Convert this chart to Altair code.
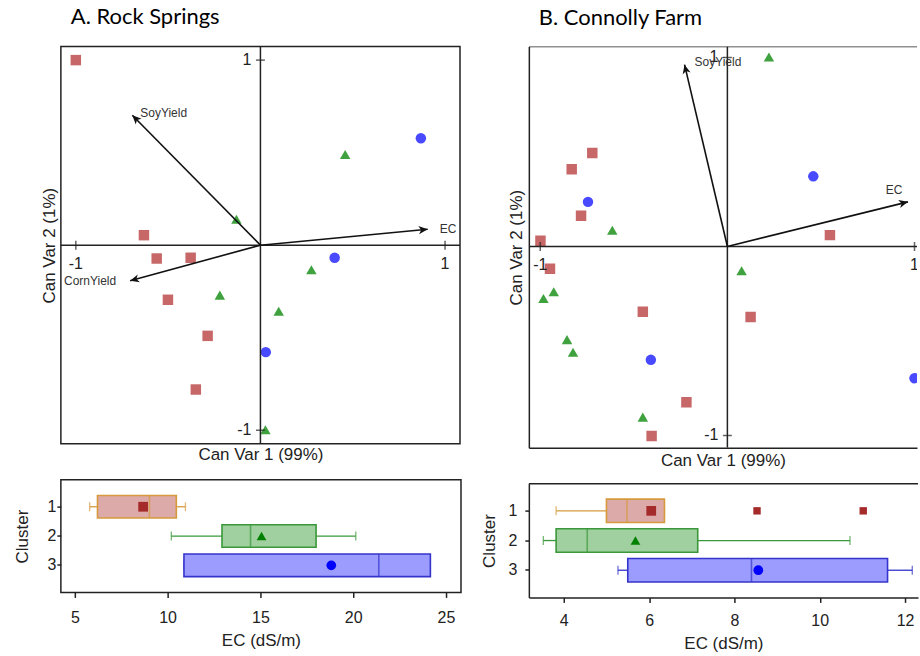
import altair as alt
import pandas as pd

# ---------------- data ----------------
CLUSTERS = ["1", "2", "3"]

# Panel A (Rock Springs) canonical scores
A_cluster = ["1"] * 7 + ["2"] * 6 + ["3"] * 3
A_can1 = [-1.0, -0.631, -0.562, -0.378, -0.501, -0.286, -0.35,
          0.459, -0.13, 0.276, -0.22, 0.099, 0.027,
          0.869, 0.402, 0.029]
A_can2 = [1.0, 0.054, -0.072, -0.068, -0.295, -0.49, -0.78,
          0.49, 0.14, -0.133, -0.27, -0.357, -0.997,
          0.578, -0.068, -0.578]
A_vec_names = ["SoyYield", "CornYield", "EC"]
A_vec_x = [-0.694, -0.706, 0.906]
A_vec_y = [0.702, -0.192, 0.086]

# Panel B (Connolly Farm) canonical scores
B_cluster = ["1"] * 10 + ["2"] * 8 + ["3"] * 4
B_can1 = [-0.722, -0.832, -0.782, -0.999, -0.948, -0.452, 0.124, -0.219, -0.405, 0.548,
          0.222, -0.615, 0.076, -0.928, -0.983, -0.857, -0.825, -0.452,
          0.459, -0.745, -0.409, 1.0]
B_can2 = [0.494, 0.408, 0.162, 0.03, -0.118, -0.345, -0.373, -0.824, -1.003, 0.06,
          1.003, 0.086, -0.129, -0.24, -0.275, -0.493, -0.56, -0.903,
          0.371, 0.236, -0.60, -0.697]
B_vec_names = ["SoyYield", "EC"]
B_vec_x = [-0.229, 0.965]
B_vec_y = [0.962, 0.236]

AXIS_TICKS = [-1, 1]
AXIS_TICK_LABELS = ["-1", "1"]

# Box plot summaries of EC (dS/m) by cluster
A_lo = [5.8, 10.2, 10.88]
A_q1 = [6.22, 12.93, 10.88]
A_med = [9.02, 14.47, 21.38]
A_q3 = [10.47, 18.0, 24.16]
A_hi = [10.96, 20.14, 24.16]
A_mean = [8.68, 15.06, 18.82]

B_lo = [3.82, 3.52, 5.27]
B_q1 = [5.0, 3.82, 5.5]
B_med = [5.48, 4.55, 8.4]
B_q3 = [6.36, 7.14, 11.59]
B_hi = [6.36, 10.71, 12.17]
B_mean = [6.05, 5.68, 8.56]
B_out_cluster = ["1", "1"]
B_out_ec = [8.53, 11.02]

A_ec_ticks = [5, 10, 15, 20, 25]
B_ec_ticks = [4, 6, 8, 10, 12]

# ---------------- styles ----------------
AX_FONT = "Liberation Sans"
TITLE_FONT = "Lato"
TXT = "#222222"
FRAME = "#222222"
SHAPES = ["square", "triangle-up", "circle"]
PT_COLORS = ["#c25a5a", "#2f9a2f", "#3a3aff"]
BOX_FILL = ["#dcaaa9", "#a0d09f", "#9c9cff"]
BOX_STROKE = ["#d69a3c", "#3a983a", "#3434cc"]
MEAN_COLORS = ["#a52a2a", "#008000", "#0000ff"]
ARROW = "M0,0 L0.45,1 L0,0.72 L-0.45,1 Z"


def scatter_panel(title, cl, c1, c2, vnames, vx, vy, label_style,
                  xdom, ydom, w, h, open_right, xpad, ypad, toff):
    pts = pd.DataFrame({"cluster": cl, "can1": c1, "can2": c2})
    vec = pd.DataFrame({"name": vnames, "x": vx, "y": vy})
    tk = pd.DataFrame({"v": AXIS_TICKS, "lab": AXIS_TICK_LABELS})
    one = alt.Data(values=[{}])
    xs = alt.Scale(domain=xdom, nice=False, zero=False)
    ys = alt.Scale(domain=ydom, nice=False, zero=False)
    clip = bool(open_right)
    common = dict(grid=False, labels=False, ticks=False, domain=open_right,
                  domainColor=FRAME, domainWidth=1.5,
                  titleFont=AX_FONT, titleFontSize=17, titleFontWeight="normal",
                  titleColor=TXT)
    xaxis = alt.Axis(title="Can Var 1 (99%)", titlePadding=xpad, **common)
    yaxis = alt.Axis(title="Can Var 2 (1%)", titlePadding=ypad, **common)

    def X(f):
        return alt.X(f, scale=xs, axis=xaxis)

    def Y(f):
        return alt.Y(f, scale=ys, axis=yaxis)

    def X0():
        return alt.XDatum(0, scale=xs, axis=xaxis)

    def Y0():
        return alt.YDatum(0, scale=ys, axis=yaxis)

    layers = []
    layers.append(
        alt.Chart(pts).mark_point(filled=True, size=110, opacity=0.92, clip=clip).encode(
            x=X("can1:Q"), y=Y("can2:Q"),
            shape=alt.Shape("cluster:N", scale=alt.Scale(domain=CLUSTERS, range=SHAPES), legend=None),
            color=alt.Color("cluster:N", scale=alt.Scale(domain=CLUSTERS, range=PT_COLORS), legend=None),
        )
    )
    # centre axes
    layers.append(alt.Chart(one).mark_rule(color=FRAME, strokeWidth=1.5, clip=clip).encode(x=X0()))
    layers.append(alt.Chart(one).mark_rule(color=FRAME, strokeWidth=1.5, clip=clip).encode(y=Y0()))
    # tick marks and labels on the centre axes
    layers.append(alt.Chart(tk).mark_tick(orient="vertical", size=9, thickness=1.5, color=FRAME,
                                          clip=clip).encode(x=X("v:Q"), y=Y0()))
    layers.append(alt.Chart(tk).mark_tick(orient="horizontal", size=9, thickness=1.5, color=FRAME,
                                          clip=clip).encode(x=X0(), y=Y("v:Q")))
    layers.append(alt.Chart(tk).mark_text(dy=19, align="center", baseline="middle", font=AX_FONT,
                                          fontSize=16, color=TXT, clip=clip).encode(
        x=X("v:Q"), y=Y0(), text="lab:N"))
    layers.append(alt.Chart(tk).mark_text(dx=-9, align="right", baseline="middle", font=AX_FONT,
                                          fontSize=16, color=TXT, clip=clip).encode(
        x=X0(), y=Y("v:Q"), text="lab:N"))
    # vectors
    layers.append(alt.Chart(vec).mark_rule(color="#111111", strokeWidth=1.6, clip=clip).encode(
        x=X("x:Q"), y=Y("y:Q"), x2=alt.X2Datum(0), y2=alt.Y2Datum(0)))
    layers.append(alt.Chart(vec).transform_calculate(
        ang="(atan2(datum.x, datum.y) * 180 / PI + 360) % 360"
    ).mark_point(shape=ARROW, filled=True, size=330, color="#111111", opacity=1, clip=clip).encode(
        x=X("x:Q"), y=Y("y:Q"), angle=alt.Angle("ang:Q", scale=None)))
    for nm, (dx, dy, al) in label_style.items():
        layers.append(alt.Chart(vec).transform_filter(alt.datum.name == nm).mark_text(
            dx=dx, dy=dy, align=al, baseline="middle", font=AX_FONT, fontSize=12, color="#333333",
            clip=clip
        ).encode(x=X("x:Q"), y=Y("y:Q"), text="name:N"))
    props = dict(width=w, height=h,
                 title=alt.TitleParams(title, anchor="start", frame="group", dx=10, font=TITLE_FONT,
                                       fontSize=22, fontWeight="normal", color="black", offset=toff))
    if open_right:
        layers.append(alt.Chart(one).mark_rule(color=FRAME, strokeWidth=1.5, clip=clip).encode(
            y=alt.YDatum(ydom[1], scale=ys, axis=yaxis)))
        props["view"] = alt.ViewBackground(stroke="transparent")
    return alt.layer(*layers).properties(**props)


def box_panel(lo, q1, med, q3, hi, mean, xdom, xticks, w, h, pin, pout, band,
              open_right, lab_pad, title_pad, xlab_pad, xtitle_pad, out_cl=None, out_ec=None):
    df = pd.DataFrame({"cluster": CLUSTERS, "lo": lo, "q1": q1, "med": med,
                       "q3": q3, "hi": hi, "mean": mean})
    xs = alt.Scale(domain=xdom, nice=False, zero=False)
    ys = alt.Scale(domain=CLUSTERS, paddingInner=pin, paddingOuter=pout)
    xaxis = alt.Axis(title="EC (dS/m)", values=xticks, grid=False, domain=open_right,
                     domainColor=FRAME, domainWidth=1.5, tickSize=5, tickColor=FRAME,
                     tickWidth=1.5, labelFont=AX_FONT, labelFontSize=16, labelColor=TXT,
                     labelPadding=xlab_pad, titleFont=AX_FONT, titleFontSize=17,
                     titleFontWeight="normal", titleColor=TXT, titlePadding=xtitle_pad)
    yaxis = alt.Axis(title="Cluster", grid=False, domain=open_right, domainColor=FRAME,
                     domainWidth=1.5, tickSize=4, tickColor=FRAME, tickWidth=1.5,
                     labelFont=AX_FONT, labelFontSize=16, labelColor=TXT, labelAngle=0,
                     labelPadding=lab_pad, titleFont=AX_FONT, titleFontSize=17,
                     titleFontWeight="normal", titleColor=TXT, titlePadding=title_pad)
    stroke_sc = alt.Scale(domain=CLUSTERS, range=BOX_STROKE)

    def X(f):
        return alt.X(f, scale=xs, axis=xaxis)

    Y = alt.Y("cluster:O", scale=ys, axis=yaxis)
    base = alt.Chart(df)
    layers = [
        base.mark_rule(strokeWidth=1.3).encode(
            x=X("lo:Q"), x2="q1:Q", y=Y,
            color=alt.Color("cluster:N", scale=stroke_sc, legend=None)),
        base.mark_rule(strokeWidth=1.3).encode(
            x=X("q3:Q"), x2="hi:Q", y=Y,
            color=alt.Color("cluster:N", scale=stroke_sc, legend=None)),
        base.mark_tick(orient="vertical", size=9, thickness=1.3).encode(
            x=X("lo:Q"), y=Y,
            color=alt.Color("cluster:N", scale=stroke_sc, legend=None)),
        base.mark_tick(orient="vertical", size=9, thickness=1.3).encode(
            x=X("hi:Q"), y=Y,
            color=alt.Color("cluster:N", scale=stroke_sc, legend=None)),
        base.mark_bar(strokeWidth=1.6).encode(
            x=X("q1:Q"), x2="q3:Q", y=Y,
            fill=alt.Fill("cluster:N", scale=alt.Scale(domain=CLUSTERS, range=BOX_FILL), legend=None),
            stroke=alt.Stroke("cluster:N", scale=stroke_sc, legend=None)),
        base.mark_tick(orient="vertical", size=band, thickness=1.6).encode(
            x=X("med:Q"), y=Y,
            color=alt.Color("cluster:N", scale=stroke_sc, legend=None)),
        base.mark_point(filled=True, size=95, opacity=1).encode(
            x=X("mean:Q"), y=Y,
            shape=alt.Shape("cluster:N", scale=alt.Scale(domain=CLUSTERS, range=SHAPES), legend=None),
            color=alt.Color("cluster:N", scale=alt.Scale(domain=CLUSTERS, range=MEAN_COLORS), legend=None)),
    ]
    if out_cl is not None:
        odf = pd.DataFrame({"cluster": out_cl, "ec": out_ec})
        layers.append(alt.Chart(odf).mark_point(filled=True, shape="square", size=55,
                                                color=MEAN_COLORS[0], opacity=1).encode(
            x=X("ec:Q"), y=Y))
    props = dict(width=w, height=h)
    if open_right:
        layers.append(alt.Chart(alt.Data(values=[{}])).mark_rule(color=FRAME, strokeWidth=1.5).encode(
            x=alt.value(0), x2=alt.value(w), y=alt.value(0)))
        props["view"] = alt.ViewBackground(stroke="transparent")
    return alt.layer(*layers).resolve_scale(color="independent").properties(**props)


scA = scatter_panel("A. Rock Springs", A_cluster, A_can1, A_can2, A_vec_names, A_vec_x, A_vec_y,
                    {"SoyYield": (8, -2, "left"), "CornYield": (-14, 0, "right"), "EC": (12, 0, "left")},
                    [-1.081, 1.081], [-1.073, 1.073], 400, 398, False, 3, 2, 17)
scB = scatter_panel("B. Connolly Farm", B_cluster, B_can1, B_can2, B_vec_names, B_vec_x, B_vec_y,
                    {"SoyYield": (10, -3, "left"), "EC": (-14, -12, "center")},
                    [-1.061, 1.0133], [-1.065, 1.0575], 389, 402, True, 5, 3, 17)
bxA = box_panel(A_lo, A_q1, A_med, A_q3, A_hi, A_mean, [4.247, 25.81], A_ec_ticks, 401, 113,
                0.23, 0.54, 22.6, False, 1, 16, 12, 7)
bxB = box_panel(B_lo, B_q1, B_med, B_q3, B_hi, B_mean, [3.181, 12.304], B_ec_ticks, 390, 114,
                0.21, 0.52, 23.5, True, 8, 10, 10, 7, B_out_cluster, B_out_ec)

left = alt.vconcat(scA, bxA, spacing=36, bounds="flush")
right = alt.vconcat(scB, bxB, spacing=36, bounds="flush")
chart = alt.hconcat(left, right, spacing=17).properties(
    padding={"left": 12, "top": 4, "right": 0, "bottom": 0}
).configure_view(stroke=FRAME, strokeWidth=1.5)

chart.save("out.html", embed_options={"renderer": "svg", "actions": False})
